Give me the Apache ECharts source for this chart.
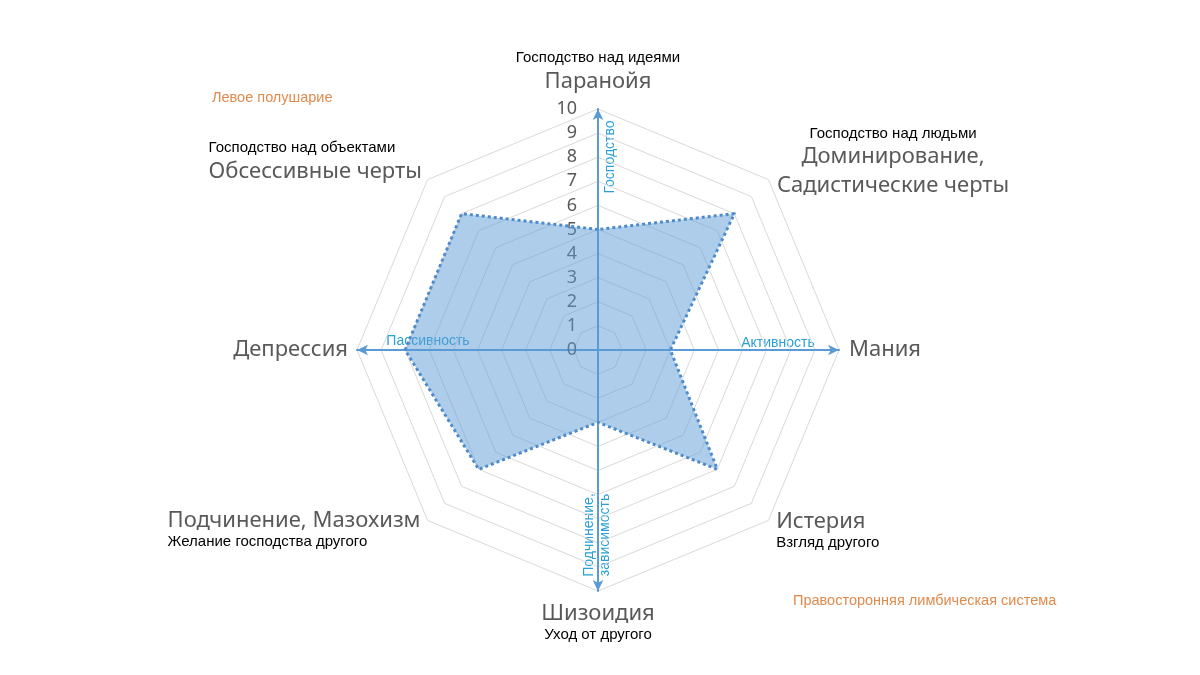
<!DOCTYPE html>
<html>
<head>
<meta charset="utf-8">
<script src="https://cdn.jsdelivr.net/npm/echarts@6/dist/echarts.min.js"></script>
<style>
html,body{margin:0;padding:0;background:#fff}
#main{width:1200px;height:675px}
</style>
</head>
<body>
<div id="main"></div>
<script>
// оси радара (против часовой стрелки, начиная сверху)
const names = ['Паранойя', 'Обсессивные черты', 'Депрессия', 'Подчинение, Мазохизм', 'Шизоидия', 'Истерия', 'Мания', 'Доминирование,\nСадистические черты'];
const subs = ['Господство над идеями', 'Господство над объектами', '', 'Желание господства другого', 'Уход от другого', 'Взгляд другого', '', 'Господство над людьми'];
const values = [5, 8, 8, 7, 3, 7, 3, 8];
const maxValue = 10;

const blue = '#5b9bd5';
const labelBlue = '#2aa0d6';
const orange = '#e08a4c';
const bigFont = 'Noto Sans';
const smallFont = 'Liberation Sans';

// где и как ставить подпись каждой оси
const nameLayout = [
    {align: 'center', verticalAlign: 'bottom', gap: 13, sub: 'above', line: 'center'},
    {align: 'right', verticalAlign: 'bottom', gap: -9, sub: 'above', line: 'left', padding: [0, 12, 0, 0]},
    {align: 'right', verticalAlign: 'middle', gap: 9},
    {align: 'right', verticalAlign: 'middle', gap: 10, sub: 'below', line: 'left'},
    {align: 'center', verticalAlign: 'top', gap: 8, sub: 'below', line: 'center'},
    {align: 'left', verticalAlign: 'middle', gap: 11, sub: 'below', line: 'left'},
    {align: 'left', verticalAlign: 'middle', gap: 10},
    {align: 'left', verticalAlign: 'middle', gap: 12, sub: 'above', line: 'center', padding: [0, 0, 17, 0]}
];

let chart = echarts.init(document.getElementById('main'));

let rich = {};
['left', 'center', 'right'].forEach(function (a) {
    rich['big_' + a] = {fontSize: 22, color: '#595959', fontFamily: bigFont, lineHeight: 29, align: a};
    rich['above_' + a] = {fontSize: 15, color: '#000000', fontFamily: smallFont, lineHeight: 18, align: a};
    rich['below_' + a] = {fontSize: 15, color: '#000000', fontFamily: smallFont, lineHeight: 13, align: a};
});

function fmtName(name) {
    let i = names.indexOf(name);
    let lay = nameLayout[i];
    let a = lay.line || lay.align;
    let lines = name.split('\n').map(function (s) { return '{big_' + a + '|' + s + '}'; });
    if (subs[i]) {
        let s = '{' + lay.sub + '_' + a + '|' + subs[i] + '}';
        if (lay.sub === 'above') lines.unshift(s); else lines.push(s);
    }
    return lines.join('\n');
}

let indicator = names.map(function (n, i) {
    let lay = nameLayout[i];
    let ind = {
        name: n,
        max: maxValue,
        min: 0,
        nameGap: lay.gap,
        nameTextStyle: {align: lay.align, verticalAlign: lay.verticalAlign, padding: lay.padding || 0}
    };
    if (i % 2 === 0) {
        ind.axisLine = {
            show: true,
            symbol: ['none', 'arrow'],
            symbolSize: [8, 11],
            lineStyle: {color: blue, width: 2}
        };
    }
    if (i === 0) {
        ind.axisLabel = {show: true};
    }
    return ind;
});

let option = {
    backgroundColor: '#ffffff',
    animation: false,
    radar: {
        center: [598, 350],
        radius: 241,
        startAngle: 90,
        shape: 'polygon',
        splitNumber: 10,
        indicator: indicator,
        axisName: {
            formatter: fmtName,
            rich: rich
        },
        axisLine: {show: false},
        axisTick: {show: false},
        axisLabel: {
            show: false,
            color: '#595959',
            fontSize: 18,
            fontFamily: bigFont,
            margin: 21
        },
        splitLine: {
            lineStyle: {color: '#d9d9d9', width: 1}
        },
        splitArea: {show: false}
    },
    series: [{
        type: 'radar',
        symbol: 'none',
        lineStyle: {color: '#4a86c6', width: 3, type: 'dotted'},
        areaStyle: {color: 'rgba(91,155,213,0.5)', opacity: 1},
        data: [{value: values, name: 'Профиль'}]
    }],
    graphic: [
        {type: 'text', x: 610, y: 157, rotation: Math.PI / 2,
            style: {text: 'Господство', fill: labelBlue, fontSize: 14, fontFamily: smallFont, align: 'center', verticalAlign: 'middle'}},
        {type: 'text', x: 428, y: 341,
            style: {text: 'Пассивность', fill: labelBlue, fontSize: 14, fontFamily: smallFont, align: 'center', verticalAlign: 'middle'}},
        {type: 'text', x: 778, y: 343,
            style: {text: 'Активность', fill: labelBlue, fontSize: 14, fontFamily: smallFont, align: 'center', verticalAlign: 'middle'}},
        {type: 'text', x: 597, y: 535, rotation: Math.PI / 2,
            style: {text: 'Подчинение,\nзависимость', fill: labelBlue, fontSize: 14, lineHeight: 16, fontFamily: smallFont, align: 'center', verticalAlign: 'middle'}},
        {type: 'text', x: 212, y: 98,
            style: {text: 'Левое полушарие', fill: orange, fontSize: 14.5, fontFamily: smallFont, align: 'left', verticalAlign: 'middle'}},
        {type: 'text', x: 793, y: 601,
            style: {text: 'Правосторонняя лимбическая система', fill: orange, fontSize: 14.5, fontFamily: smallFont, align: 'left', verticalAlign: 'middle'}}
    ]
};
chart.setOption(option);
</script>
</body>
</html>
